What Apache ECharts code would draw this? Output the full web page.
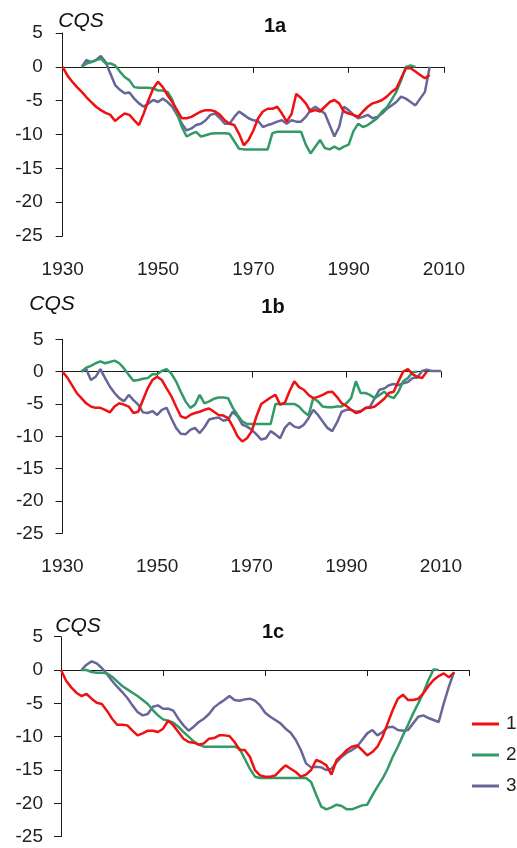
<!DOCTYPE html>
<html>
<head>
<meta charset="utf-8">
<script src="https://cdn.jsdelivr.net/npm/echarts@6/dist/echarts.min.js"></script>
<style>
html,body{margin:0;padding:0;background:#fff;}
#c{width:517px;height:848px;}
</style>
</head>
<body>
<div id="c"></div>
<script>
// ---- data ----
const xTicks = [1930, 1950, 1970, 1990, 2010];
const yTicks = [-25, -20, -15, -10, -5, 0, 5];
const seriesNames = ['1', '2', '3'];
const panelTitles = ['1a', '1b', '1c'];

// panel 1a
const a1Start = 1930;
const a1 = [0,-1.3,-2.2,-3.0,-3.7,-4.5,-5.2,-5.9,-6.4,-6.8,
  -7.1,-8.0,-7.4,-6.9,-7.1,-7.9,-8.6,-6.9,-4.9,-3.2,
  -2.2,-3.0,-4.2,-5.2,-6.4,-7.6,-7.6,-7.4,-7.0,-6.6,
  -6.4,-6.4,-6.6,-7.1,-7.9,-8.4,-8.6,-9.9,-11.6,-10.8,
  -9.4,-7.6,-6.6,-6.2,-6.2,-5.9,-6.9,-8.1,-7.0,-4.0,
  -4.6,-5.4,-6.6,-6.4,-6.6,-5.9,-5.2,-4.9,-5.4,-6.6,
  -6.9,-7.1,-7.4,-6.6,-5.9,-5.4,-5.2,-4.9,-4.4,-3.7,
  -3.2,-1.7,-0.2,-0.2,-0.7,-1.2,-1.7,-1.2];
const a2Start = 1934;
const a2 = [0,0.5,0.7,1.0,1.2,0.5,
  0.5,0.2,-0.7,-1.5,-2.0,-3.0,-3.1,-3.1,-3.1,-3.2,
  -3.5,-3.5,-3.7,-4.9,-6.9,-8.9,-10.3,-9.9,-9.6,-10.3,
  -10.1,-9.9,-9.8,-9.8,-9.8,-9.9,-11.0,-12.1,-12.2,-12.2,
  -12.2,-12.2,-12.2,-12.2,-9.8,-9.6,-9.6,-9.6,-9.6,-9.6,
  -9.6,-11.5,-12.8,-11.8,-10.8,-12.0,-12.2,-11.8,-12.2,-11.8,
  -11.5,-9.5,-8.4,-8.9,-8.6,-8.1,-7.6,-6.6,-6.0,-4.9,
  -3.7,-2.0,0,0.2,0];
const a3Start = 1934;
const a3 = [0,1.0,0.7,1.0,1.6,0.7,
  -1.0,-2.7,-3.4,-3.9,-3.8,-4.7,-5.4,-5.9,-5.4,-4.9,
  -5.2,-4.7,-5.2,-5.9,-7.1,-8.4,-9.4,-9.1,-8.6,-8.4,
  -7.9,-7.1,-6.9,-7.6,-8.4,-8.4,-7.4,-6.6,-7.1,-7.6,
  -7.9,-8.0,-8.9,-8.6,-8.4,-8.1,-7.9,-8.4,-7.9,-8.1,
  -8.1,-7.4,-6.4,-5.9,-6.4,-6.9,-8.6,-10.3,-8.9,-5.9,
  -6.4,-7.1,-7.6,-7.4,-7.1,-7.6,-7.4,-6.9,-6.2,-5.7,
  -5.2,-4.4,-4.7,-5.2,-5.7,-4.7,-3.7,0];

// panel 1b
const b1Start = 1930;
const b1 = [0,-0.9,-2.1,-3.3,-4.1,-4.9,-5.4,-5.6,-5.6,-5.9,
  -6.3,-5.4,-4.9,-5.1,-5.4,-6.4,-6.2,-4.4,-2.6,-1.3,
  -0.8,-1.3,-2.6,-3.8,-5.4,-6.9,-7.2,-6.7,-6.4,-6.2,
  -5.9,-5.7,-6.2,-6.7,-6.8,-7.2,-8.5,-10.0,-10.8,-10.3,
  -9.2,-6.9,-5.0,-4.5,-4.0,-3.6,-5.1,-4.8,-3.0,-1.5,
  -2.4,-2.8,-3.6,-4.1,-3.9,-3.6,-3.2,-3.1,-3.9,-4.9,
  -5.3,-5.9,-6.4,-6.2,-5.6,-5.6,-5.4,-4.8,-4.2,-3.3,
  -3.1,-1.5,0,0.4,-0.4,-0.8,-1.0,0];
const b2Start = 1934;
const b2 = [0,0.6,0.9,1.3,1.6,1.3,
  1.5,1.7,1.3,0.5,-0.5,-1.4,-1.3,-1.1,-1.0,-0.4,
  -0.4,0.1,0.4,-0.3,-1.5,-3.1,-4.6,-5.6,-5.1,-3.6,
  -4.9,-4.6,-4.2,-4.0,-4.0,-4.1,-5.6,-6.7,-7.7,-8.1,
  -8.1,-8.1,-8.1,-8.1,-8.1,-5.0,-5.0,-5.0,-5.0,-5.0,
  -5.4,-6.2,-6.8,-4.1,-4.6,-5.4,-5.5,-5.5,-5.4,-5.4,
  -4.9,-4.1,-1.5,-3.3,-3.3,-3.6,-4.1,-3.6,-3.1,-3.8,
  -4.1,-3.1,-1.5,-1.0,-0.1,0];
const b3Start = 1934;
const b3 = [0,0.4,-1.3,-0.8,0.4,-1.0,
  -2.3,-3.3,-4.1,-4.6,-3.6,-4.4,-5.1,-6.3,-6.4,-6.1,
  -6.7,-5.9,-5.6,-7.2,-8.7,-9.6,-9.7,-9.0,-8.7,-9.5,
  -8.6,-7.4,-7.2,-7.1,-7.6,-7.4,-6.2,-6.9,-8.2,-8.5,
  -9.0,-9.7,-10.5,-10.3,-9.2,-9.7,-10.3,-8.7,-7.9,-8.5,
  -8.7,-8.2,-7.2,-5.9,-6.7,-7.7,-8.7,-9.2,-7.9,-6.2,
  -5.9,-5.9,-6.2,-6.1,-5.7,-5.4,-4.1,-2.8,-2.6,-2.1,
  -1.9,-2.1,-1.8,-1.6,-1.0,-0.9,0.1,0.3,0.1,0.1,0.1];

// panel 1c
const c1Start = 1930;
const c1 = [0,-1.6,-2.6,-3.4,-3.9,-3.6,-4.3,-4.9,-5.1,-6.1,
  -7.3,-8.2,-8.2,-8.3,-9.1,-9.8,-9.5,-9.1,-9.1,-9.3,
  -8.8,-7.6,-8.3,-9.3,-10.3,-10.8,-10.9,-11.2,-11.0,-10.3,
  -10.2,-9.8,-9.8,-9.9,-10.8,-12.0,-12.0,-13.0,-15.0,-15.8,
  -16.0,-16.0,-15.8,-15.0,-14.3,-14.8,-15.3,-16.0,-15.7,-15.0,
  -13.5,-13.8,-14.3,-15.7,-13.5,-12.8,-12.0,-11.5,-11.3,-12.0,
  -12.8,-12.3,-11.5,-10.0,-8.0,-6.0,-4.3,-3.7,-4.5,-4.5,
  -4.3,-3.5,-2.4,-1.5,-0.9,-0.5,-1.1,-0.4];
const c2Start = 1934;
const c2 = [0,0,-0.3,-0.4,-0.4,-0.5,
  -1.0,-1.7,-2.4,-2.9,-3.4,-3.9,-4.5,-5.1,-6.0,-6.8,
  -7.4,-7.6,-7.9,-8.5,-9.3,-10.0,-10.7,-11.2,-11.5,-11.5,
  -11.5,-11.5,-11.5,-11.5,-11.5,-11.8,-13.3,-14.8,-16.0,-16.2,
  -16.2,-16.2,-16.2,-16.2,-16.2,-16.2,-16.2,-16.2,-16.2,-16.8,
  -18.7,-20.5,-20.9,-20.6,-20.2,-20.4,-20.9,-20.9,-20.6,-20.3,
  -20.2,-18.8,-17.5,-16.3,-14.8,-13.0,-11.5,-9.8,-8.2,-6.5,
  -5.0,-3.4,-1.5,0.1,0];
const c3Start = 1934;
const c3 = [0,0.8,1.3,1.0,0.3,-0.6,
  -1.6,-2.5,-3.3,-4.2,-5.3,-6.3,-6.8,-6.6,-5.5,-5.3,
  -5.8,-5.8,-6.1,-7.3,-8.3,-9.1,-8.5,-7.8,-7.3,-6.6,
  -5.6,-5.0,-4.5,-3.9,-4.5,-4.6,-4.4,-4.3,-4.6,-5.3,
  -6.4,-7.0,-7.5,-8.0,-8.8,-9.4,-10.5,-12.0,-14.0,-14.6,
  -14.5,-14.6,-15.0,-14.8,-13.8,-13.0,-12.4,-12.0,-11.5,-10.5,
  -9.5,-9.0,-9.8,-9.3,-8.6,-8.5,-9.0,-9.1,-9.0,-8.0,
  -7.0,-6.8,-7.2,-7.5,-7.8,-5.0,-2.5,-0.3];

const panels = [
  [[a1Start, a1], [a2Start, a2], [a3Start, a3]],
  [[b1Start, b1], [b2Start, b2], [b3Start, b3]],
  [[c1Start, c1], [c2Start, c2], [c3Start, c3]]
];

// ---- styling / layout ----
const colors = ['#ee1111', '#339966', '#666699'];
const FONT = '"Liberation Sans", Arial, sans-serif';
const axisColor = '#1a1a1a';
const textColor = '#222';
const grids = [
  {left: 62.7, top: 33, width: 381.3, height: 203, labelMargin: 20, showX: true, title: [275, 26], cqs: [81, 21]},
  {left: 62.5, top: 339.3, width: 378.5, height: 194, labelMargin: 19, showX: true, title: [273, 307], cqs: [52, 304]},
  {left: 61, top: 636.7, width: 408.3, height: 200, labelMargin: 18, showX: false, title: [273, 632], cqs: [78, 626]}
];

function toPairs(start, arr) {
  return arr.map((v, i) => [start + i, v]);
}

const option = {
  animation: false,
  backgroundColor: '#fff',
  grid: grids.map(g => ({left: g.left, top: g.top, width: g.width, height: g.height, containLabel: false, outerBoundsMode: 'none'})),
  xAxis: [],
  yAxis: [],
  series: [],
  legend: {
    orient: 'vertical',
    left: 472,
    top: 714,
    icon: 'rect',
    itemWidth: 27,
    itemHeight: 3,
    itemGap: 11,
    padding: 0,
    data: seriesNames,
    textStyle: {fontSize: 19, lineHeight: 20, color: textColor, fontFamily: FONT, padding: [0, 0, 0, 2]}
  },
  graphic: []
};

grids.forEach((g, gi) => {
  // zero line axis with downward ticks
  option.xAxis.push({
    gridIndex: gi, type: 'value', min: xTicks[0], max: xTicks[xTicks.length - 1],
    interval: xTicks[1] - xTicks[0], position: 'bottom',
    axisLine: {show: true, onZero: true, lineStyle: {color: axisColor, width: 1}},
    axisTick: {show: true, length: 6, lineStyle: {color: axisColor, width: 1}},
    axisLabel: {show: false},
    splitLine: {show: false}
  });
  // bottom label axis
  option.xAxis.push({
    gridIndex: gi, type: 'value', min: xTicks[0], max: xTicks[xTicks.length - 1],
    interval: xTicks[1] - xTicks[0], position: 'bottom',
    axisLine: {show: false, onZero: false},
    axisTick: {show: false},
    axisLabel: {show: g.showX, margin: 24, fontSize: 19, color: textColor, fontFamily: FONT,
      formatter: v => String(v)},
    splitLine: {show: false}
  });
  option.yAxis.push({
    gridIndex: gi, type: 'value', min: yTicks[0], max: yTicks[yTicks.length - 1],
    interval: yTicks[1] - yTicks[0],
    axisLine: {show: true, onZero: false, lineStyle: {color: axisColor, width: 1}},
    axisTick: {show: true, length: 7, lineStyle: {color: axisColor, width: 1}},
    axisLabel: {margin: g.labelMargin, fontSize: 19, color: textColor, fontFamily: FONT},
    splitLine: {show: false}
  });
  panels[gi].forEach((s, si) => {
    option.series.push({
      name: seriesNames[si],
      type: 'line',
      xAxisIndex: gi * 2,
      yAxisIndex: gi,
      data: toPairs(s[0], s[1]),
      symbol: 'none',
      showSymbol: false,
      color: colors[si],
      lineStyle: {width: 2.5, color: colors[si]},
      z: 3 - si
    });
  });
  option.graphic.push({
    type: 'text', x: g.title[0], y: g.title[1],
    style: {text: panelTitles[gi], font: 'bold 20px ' + FONT, fill: '#111', align: 'center', verticalAlign: 'middle'}
  });
  option.graphic.push({
    type: 'text', x: g.cqs[0], y: g.cqs[1],
    style: {text: 'CQS', font: 'italic 21px ' + FONT, fill: '#111', align: 'center', verticalAlign: 'middle'}
  });
});

const chart = echarts.init(document.getElementById('c'), null, {renderer: 'canvas'});
chart.setOption(option);
</script>
</body>
</html>
